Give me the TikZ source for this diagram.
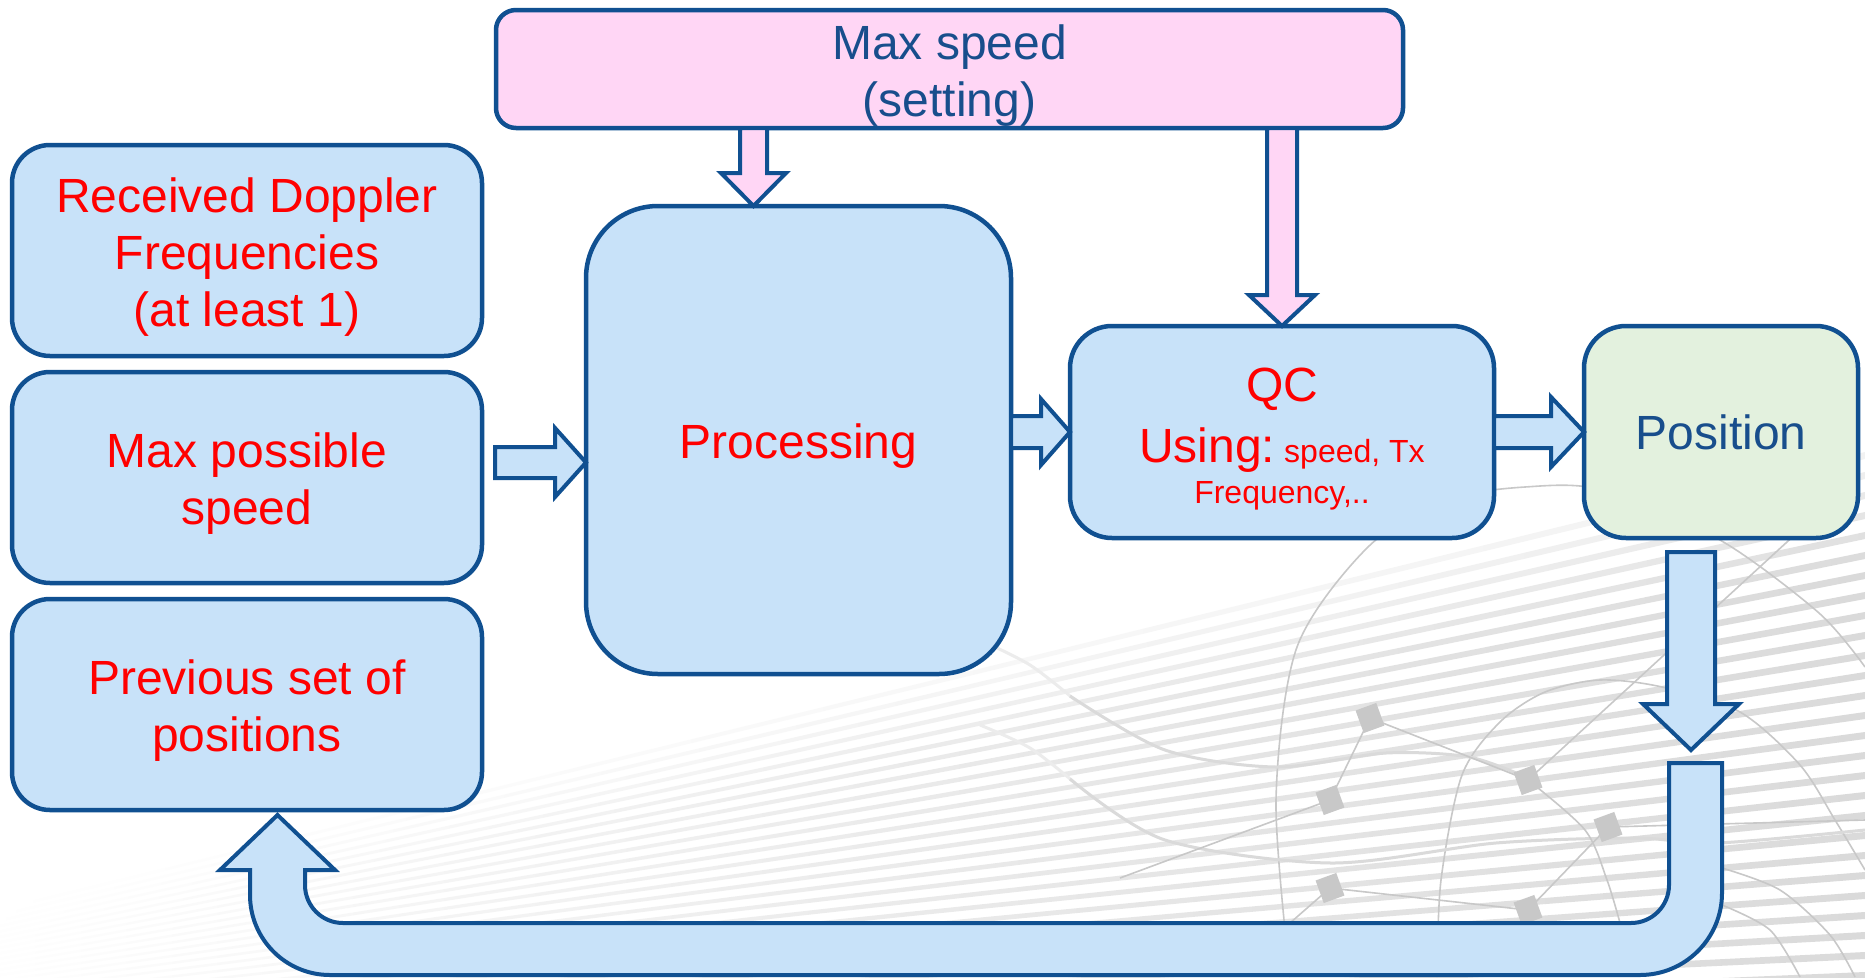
\documentclass[tikz,border=0pt]{standalone}
\usepackage{fontspec}
\setmainfont{Liberation Sans}
\usetikzlibrary{calc}
\definecolor{bord}{RGB}{16,80,145}
\definecolor{lblue}{RGB}{200,226,249}
\definecolor{lpink}{RGB}{255,214,245}
\definecolor{lgreen}{RGB}{227,241,222}
\definecolor{dblue}{RGB}{24,78,140}
\definecolor{deco}{RGB}{200,200,200}
\definecolor{decol}{RGB}{218,218,218}
\definecolor{decovl}{RGB}{236,236,236}
\newcommand\tup{\rule{0pt}{47pt}}
\newcommand\arrowR[6][barrow]{%
  \draw[#1] let \p1=(#2), \p2=(#3) in
    (\x1,\y2+#4pt) -- (\x2-#6pt,\y2+#4pt) -- (\x2-#6pt,\y2+#5pt) -- (\x2,\y2)
    -- (\x2-#6pt,\y2-#5pt) -- (\x2-#6pt,\y2-#4pt) -- (\x1,\y2-#4pt) -- cycle;}
\newcommand\arrowD[6][barrow]{%
  \draw[#1] let \p1=(#2), \p2=(#3) in
    (\x2-#4pt,\y1) -- (\x2-#4pt,\y2+#6pt) -- (\x2-#5pt,\y2+#6pt) -- (\x2,\y2)
    -- (\x2+#5pt,\y2+#6pt) -- (\x2+#4pt,\y2+#6pt) -- (\x2+#4pt,\y1) -- cycle;}
\begin{document}
\begin{tikzpicture}[x=1pt,y=-1pt,
  box/.style={draw=bord, line width=4.5pt, fill=lblue, rounded corners=38pt,
    inner sep=0pt, outer sep=0pt, align=center, text=red,
    font=\fontsize{48}{57}\selectfont},
  barrow/.style={draw=bord, line width=4pt, fill=lblue, line join=miter},
  parrow/.style={barrow, fill=lpink},
  decoline/.style={draw=deco, line width=1.6pt},
  decowave/.style={draw=decol, line width=3pt},
  decosq/.style={fill=deco}]
\useasboundingbox[fill=white] (0,0) rectangle (1865,977);

% ---------- background decoration ----------
\begin{scope}
\clip (0,0) rectangle (1865,977);
\foreach \k in {0,...,28} {
  \pgfmathsetmacro\yy{452+20*\k}
  \pgfmathsetmacro\gg{min(29,10+3.5*\k)}
  \pgfmathsetmacro\gm{0.55*\gg}
  \pgfdeclarehorizontalshading{sf\k}{100bp}{color(0bp)=(white); color(38bp)=(white); color(56bp)=(gray!\gm); color(75bp)=(gray!\gg); color(100bp)=(gray!\gg)}
  \shade[shading=sf\k] (-700,1080) -- (1865,\yy) -- (1865,\yy+7) -- cycle;
}
\draw[decoline] plot[smooth] coordinates {(1290,977) (1276,800) (1297,647) (1368,547) (1446,500) (1525,487) (1603,490) (1720,540) (1819,613) (1865,667)};
\draw[decoline] plot[smooth] coordinates {(1437,977) (1441,880) (1462,775) (1500,722) (1545,692) (1600,680) (1662,687) (1740,712) (1800,765) (1835,820) (1865,870)};
\draw[decoline] plot[smooth] coordinates {(1722,868) (1780,890) (1830,935) (1855,977)};
\draw[decoline] plot[smooth] coordinates {(1722,905) (1770,930) (1800,977)};
\draw[draw=decovl, line width=3pt] plot[smooth] coordinates {(980,640) (1030,665) (1075,700)};
\draw[draw=decovl, line width=3pt] plot[smooth] coordinates {(980,725) (1030,748) (1075,783)};
\draw[decowave] plot[smooth] coordinates {(1070,696) (1165,750) (1276,767) (1386,753) (1469,757) (1528,778)};
\draw[decowave] plot[smooth] coordinates {(1070,779) (1165,840) (1331,863) (1496,843) (1634,838) (1717,843) (1865,830)};
\draw[decoline] (1528,780) -- (1800,530);
\draw[decoline] plot[smooth] coordinates {(1528,780) (1585,830) (1607,880) (1620,923)};
\draw[decoline] (1608,827) -- (1528,910);
\draw[decoline] (1608,827) -- (1865,820);
\draw[decoline] (1330,888) -- (1528,910);
\draw[decoline] (1330,888) -- (1290,923);
\draw[decoline] (1370,718) -- (1330,800);
\draw[decoline] (1370,718) -- (1528,780);
\draw[decoline] (1330,800) -- (1120,878);
\foreach \p in {(1370,718),(1330,800),(1528,780),(1608,827),(1330,888),(1528,910)}
  \fill[decosq, shift={\p}, rotate=20] (-11,-12) rectangle (11,12);
\end{scope}

% ---------- nodes ----------
\node[box, fill=lpink, text=dblue, rounded corners=20pt, minimum width=907pt, minimum height=118pt]
  (maxset) at (949.5,69) {\tup Max speed\\(setting)};
\node[box, minimum width=470pt, minimum height=211pt] (rdf) at (247,250.5)
  {\tup Received Doppler\\Frequencies\\(at least 1)};
\node[box, minimum width=470pt, minimum height=211pt] (mps) at (247,477.5)
  {\tup Max possible\\speed};
\node[box, minimum width=470pt, minimum height=211pt] (prev) at (247,704.5)
  {\tup Previous set of\\positions};
\node[box, rounded corners=72pt, minimum width=425pt, minimum height=468pt] (proc) at (798.5,440)
  {\tup Processing};
\node[box, rounded corners=42pt, minimum width=424pt, minimum height=212pt] (qc) at (1282,432)
  {\tup QC\\[4pt]Using:{\fontsize{32}{38}\selectfont\ speed, Tx}\\[-16pt]{\fontsize{32}{38}\selectfont Frequency,..}};
\node[box, fill=lgreen, text=dblue, rounded corners=42pt, minimum width=274pt, minimum height=212pt] (pos) at (1721,432)
  {Position};

% ---------- helper coordinates ----------
\coordinate (x1) at (753.5,0);
\coordinate (y3) at (0,462.5);
\coordinate (ptip) at ($(pos.south)+(-30,212)$);
\coordinate (ustart) at ($(pos.south)+(-25.5,225)$);
\coordinate (utip) at ($(prev.south)+(30.5,5)$);

% ---------- block arrows ----------
\arrowD[parrow]{x1 |- maxset.south}{x1 |- proc.north}{13.5}{32.5}{33}
\arrowD[parrow]{qc.north |- maxset.south}{qc.north}{15}{33}{31}
\arrowR{$(mps.east |- y3)+(13,0)$}{proc.west |- y3}{15.5}{34.5}{31}
\arrowR{proc.east |- qc.west}{qc.west}{16}{33}{29}
\arrowR{qc.east}{pos.west}{16}{35}{33}
\arrowD{$(pos.south)+(-30,14)$}{ptip}{24}{48}{46}

% ---------- U-turn arrow back to previous positions ----------
\draw[barrow]
  ($(ustart)+(26.5,0)$) -- ($(ustart)+(26.5,130)$)
  arc[start angle=0, end angle=90, radius=82]
  -- ($(utip)+(52.5,160)$)
  arc[start angle=90, end angle=180, radius=80]
  -- ($(utip)+(-27.5,55)$) -- ($(utip)+(-57.5,55)$) -- (utip)
  -- ($(utip)+(57.5,55)$) -- ($(utip)+(27.5,55)$) -- ($(utip)+(27.5,70)$)
  arc[start angle=180, end angle=90, radius=38]
  -- ($(ustart)+(-64.5,160)$)
  arc[start angle=90, end angle=0, radius=38]
  -- ($(ustart)+(-26.5,0)$) -- cycle;
\end{tikzpicture}
\end{document}
